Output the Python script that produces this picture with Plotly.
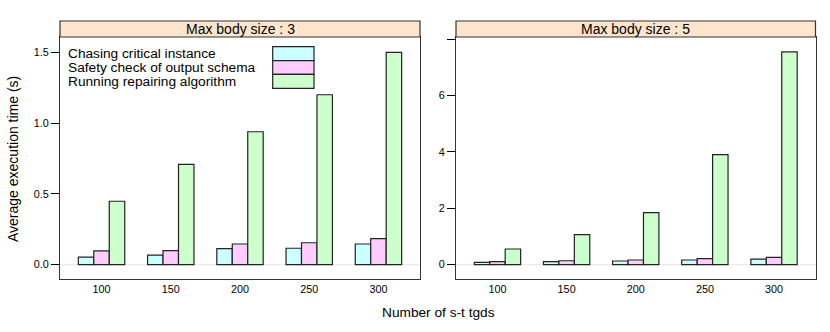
import plotly.graph_objects as go

categories = ["100", "150", "200", "250", "300"]
series_names = ["Chasing critical instance", "Safety check of output schema", "Running repairing algorithm"]
colors = ["#CCFFFF", "#FFCCFF", "#CCFFCC"]

# Max body size 3
chase_3 = [0.054, 0.068, 0.113, 0.116, 0.146]
safety_3 = [0.097, 0.099, 0.146, 0.155, 0.184]
repair_3 = [0.448, 0.709, 0.939, 1.20, 1.50]

# Max body size 5
chase_5 = [0.085, 0.107, 0.13, 0.167, 0.20]
safety_5 = [0.107, 0.14, 0.167, 0.213, 0.26]
repair_5 = [0.557, 1.065, 1.846, 3.905, 7.55]

panel_titles = ["Max body size : 3", "Max body size : 5"]

W, H = 830, 332
FONT = "Liberation Sans, Arial, Helvetica, sans-serif"

def px(x):
    return x / W

def py(y):
    return 1 - y / H

fig = go.Figure()

for i, vals in enumerate([chase_3, safety_3, repair_3]):
    fig.add_trace(go.Bar(x=categories, y=vals, name=series_names[i], marker=dict(color=colors[i], line=dict(color="#222222", width=1.2)),
                         xaxis="x", yaxis="y", offsetgroup=str(i), showlegend=False))
for i, vals in enumerate([chase_5, safety_5, repair_5]):
    fig.add_trace(go.Bar(x=categories, y=vals, name=series_names[i], marker=dict(color=colors[i], line=dict(color="#222222", width=1.2)),
                         xaxis="x2", yaxis="y2", offsetgroup=str(i), showlegend=False))

y_dom = [py(279), py(37)]
left_dom = [px(60), px(420)]
right_dom = [px(456), px(815.5)]

common_x = dict(type="category", range=[-0.6, 4.6], showline=True, mirror=True, linecolor="#333333", linewidth=1.2,
                ticks="", showgrid=False, zeroline=False, tickfont=dict(size=10.8, color="#000", family=FONT))
common_y = dict(showline=True, mirror=True, linecolor="#333333", linewidth=1.2, ticks="outside", ticklen=8, tickwidth=1,
                tickcolor="#000", showgrid=False, zeroline=False, tickfont=dict(size=10.8, color="#000", family=FONT))

fig.update_layout(
    width=W, height=H, margin=dict(l=0, r=0, t=0, b=0),
    paper_bgcolor="white", plot_bgcolor="white",
    barmode="group", bargap=0.33, bargroupgap=0,
    showlegend=False,
    font=dict(family=FONT, color="#000"),
    xaxis=dict(domain=left_dom, anchor="y", **common_x),
    yaxis=dict(domain=y_dom, anchor="x", range=[-0.101, 1.608], tickvals=[0, 0.5, 1.0, 1.5],
               ticktext=["0.0", "0.5", "1.0", "1.5"], **common_y),
    xaxis2=dict(domain=right_dom, anchor="y2", **common_x),
    yaxis2=dict(domain=y_dom, anchor="x2", range=[-0.508, 8.08], tickvals=[0, 2, 4, 6, 8],
                ticktext=["0", "2", "4", "6", ""], **common_y),
)

shapes = []
annotations = []
# zero reference lines
for xr, yr in [("x domain", "y"), ("x2 domain", "y2")]:
    shapes.append(dict(type="line", xref=xr, yref=yr, x0=0, x1=1, y0=0, y1=0, line=dict(color="#e6e6e6", width=1), layer="below"))
# strips
for dom, title in zip([left_dom, right_dom], panel_titles):
    shapes.append(dict(type="rect", xref="paper", yref="paper", x0=dom[0], x1=dom[1], y0=py(37), y1=py(21),
                       fillcolor="#FFE5CC", line=dict(color="#333333", width=1.2)))
    annotations.append(dict(xref="paper", yref="paper", x=(dom[0] + dom[1]) / 2, y=py(29), text=title, showarrow=False,
                            font=dict(size=14, color="#000", family=FONT), xanchor="center", yanchor="middle"))
# legend key
rows = [46.7, 60.7, 74.3, 88.3]
for i, name in enumerate(series_names):
    shapes.append(dict(type="rect", xref="paper", yref="paper", x0=px(272.7), x1=px(314), y0=py(rows[i + 1]), y1=py(rows[i]),
                       fillcolor=colors[i], line=dict(color="#222222", width=1.2)))
    annotations.append(dict(xref="paper", yref="paper", x=px(66), y=py((rows[i] + rows[i + 1]) / 2), text=name, showarrow=False,
                            font=dict(size=13.7, color="#000", family=FONT), xanchor="left", yanchor="middle"))
# axis titles
annotations.append(dict(xref="paper", yref="paper", x=px(13), y=py(159), text="Average execution time (s)", textangle=-90,
                        showarrow=False, font=dict(size=14, color="#000", family=FONT), xanchor="center", yanchor="middle"))
annotations.append(dict(xref="paper", yref="paper", x=px(438), y=py(312), text="Number of s-t tgds",
                        showarrow=False, font=dict(size=13.7, color="#000", family=FONT), xanchor="center", yanchor="middle"))

fig.update_layout(shapes=shapes, annotations=annotations)

fig.write_html("out.html", config={"displayModeBar": False}, post_script="document.body.style.margin='0px';")
